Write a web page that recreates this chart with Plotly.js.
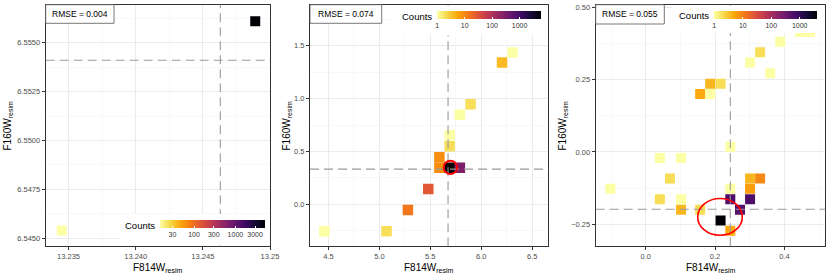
<!DOCTYPE html>
<html>
<head>
<meta charset="utf-8">
<script src="https://cdn.plot.ly/plotly-3.0.1.min.js"></script>
<style>html,body{margin:0;padding:0;background:#fff;}#chart{width:830px;height:277px;}</style>
</head>
<body>
<div id="chart"></div>
<script>
// ---------- Data ----------
// Panel 1
const p1X = [13.2345, 13.2489];
const p1Y = [6.5454, 6.5561];
const p1N = [15, 5200];
const p1RefX = 13.2463, p1RefY = 6.55411;
const p1Rmse = "RMSE = 0.004";
// Panel 2
const p2X = [4.46, 5.07, 5.28, 5.48, 5.589, 5.589, 5.69, 5.79, 5.69, 5.69, 5.79, 5.895, 6.204, 6.306];
const p2Y = [-0.255, -0.255, -0.054, 0.144, 0.345, 0.446, 0.345, 0.345, 0.55, 0.652, 0.846, 0.947, 1.341, 1.436];
const p2N = [1, 2, 14, 28, 9, 9, 6200, 300, 2, 1, 1, 2, 4, 1];
const p2RefX = 5.674, p2RefY = 0.333;
const p2Rmse = "RMSE = 0.074";
// Panel 3
const p3X = [0.446, 0.474, 0.388, 0.33, 0.301, 0.359, 0.186, 0.216, 0.157, 0.186, 0.244, 0.041, 0.102, 0.07, -0.102, 0.244, 0.301, 0.33, 0.301, 0.041, 0.102, 0.244, 0.301, 0.102, 0.157, 0.272, 0.216, 0.244];
const p3Y = [0.415, 0.415, 0.381, 0.345, 0.309, 0.272, 0.236, 0.236, 0.2, 0.2, 0.018, -0.021, -0.021, -0.092, -0.127, -0.127, -0.092, -0.092, -0.127, -0.163, -0.163, -0.163, -0.163, -0.2, -0.2, -0.2, -0.237, -0.272];
const p3N = [1, 1, 1, 2, 1, 1, 4, 2, 5, 1, 1, 1, 1, 2, 1, 1, 4, 9, 6, 2, 1, 600, 600, 4, 2, 500, 4150, 5];
const p3RefX = 0.244, p3RefY = -0.198;
const p3Rmse = "RMSE = 0.055";

// Tick labels
const p1XTicks = [13.235, 13.240, 13.245, 13.250];
const p1XText = ["13.235", "13.240", "13.245", "13.25"];
const p1YTicks = [6.5450, 6.5475, 6.5500, 6.5525, 6.5550];
const p1YText = ["6.5450", "6.5475", "6.5500", "6.5525", "6.5550"];
const p2XTicks = [4.5, 5.0, 5.5, 6.0, 6.5];
const p2XText = ["4.5", "5.0", "5.5", "6.0", "6.5"];
const p2YTicks = [0.0, 0.5, 1.0, 1.5];
const p2YText = ["0.0", "0.5", "1.0", "1.5"];
const p3XTicks = [0.0, 0.2, 0.4];
const p3XText = ["0.0", "0.2", "0.4"];
const p3YTicks = [-0.25, 0.0, 0.25, 0.5];
const p3YText = ["\u22120.25", "0.00", "0.25", "0.50"];
const p1CbTicks = [30, 100, 300, 1000, 3000];
const p23CbTicks = [1, 10, 100, 1000];

// ---------- Styling ----------
const W = 830, H = 277;
const px = v => v / W;
const py = v => 1 - v / H;
const inferno = [[0,'#FCFFA4'],[0.1,'#F6D746'],[0.2,'#FCA50A'],[0.3,'#F37819'],[0.4,'#DD513A'],[0.5,'#BC3754'],[0.6,'#932667'],[0.7,'#6A176E'],[0.8,'#420A68'],[0.9,'#160B39'],[1,'#000004']];

function binTrace(xs, ys, ns, xa, ya, size, ticks, cb) {
  return {
    type: 'scatter', mode: 'markers', x: xs, y: ys, xaxis: xa, yaxis: ya,
    hoverinfo: 'skip',
    marker: {
      symbol: 'square', size: size, line: {width: 0},
      color: ns.map(Math.log10),
      cmin: Math.log10(Math.min(...ns)), cmax: Math.log10(Math.max(...ns)),
      colorscale: inferno, showscale: true,
      colorbar: {
        orientation: 'h', x: px(cb.x), xanchor: 'left', y: py(cb.y), yanchor: 'top',
        len: cb.len, lenmode: 'pixels', thickness: 8.4, thicknessmode: 'pixels',
        xpad: 0, ypad: 0, outlinewidth: 0, borderwidth: 0, bgcolor: 'rgba(0,0,0,0)',
        tickvals: ticks.map(Math.log10), ticktext: ticks.map(String),
        ticks: 'inside', ticklen: 2, tickcolor: '#ffffff', tickwidth: 1,
        tickfont: {size: 7, color: '#333333'}
      }
    }
  };
}

const data = [
  binTrace(p1X, p1Y, p1N, 'x', 'y', 10, p1CbTicks, {x: 160, y: 220.3, len: 105}),
  binTrace(p2X, p2Y, p2N, 'x2', 'y2', 10.5, p23CbTicks, {x: 437.3, y: 10.8, len: 104.4}),
  binTrace(p3X, p3Y, p3N, 'x3', 'y3', 10, p23CbTicks, {x: 714.3, y: 10.8, len: 103.4})
];

function axis(dom, range, tv, tt, minorVals, anchor) {
  return {
    domain: dom, range: range, anchor: anchor,
    tickmode: 'array', tickvals: tv, ticktext: tt,
    showline: true, mirror: true, linecolor: '#333333', linewidth: 1,
    ticks: 'outside', ticklen: 3, tickwidth: 1, tickcolor: '#333333',
    tickfont: {size: 7.5, color: '#4D4D4D'},
    showgrid: true, gridcolor: '#EBEBEB', gridwidth: 1, zeroline: false,
    minor: {tickmode: 'array', tickvals: minorVals, showgrid: true, gridcolor: '#F3F3F3', gridwidth: 0.6, ticks: ''}
  };
}

const yDom = [py(246.3), py(4.7)];
const layout = {
  width: W, height: H, margin: {l: 0, r: 0, t: 0, b: 0},
  paper_bgcolor: '#ffffff', plot_bgcolor: '#ffffff', showlegend: false,
  font: {family: 'Liberation Sans, Arial, sans-serif', color: '#000'},
  xaxis: axis([px(45.7), px(270)], [13.2333, 13.2500], p1XTicks, p1XText, [13.2375, 13.2425, 13.2475], 'y'),
  yaxis: axis(yDom, [6.54459, 6.55695], p1YTicks, p1YText, [6.54625, 6.54875, 6.55125, 6.55375, 6.55625], 'x'),
  xaxis2: axis([px(310), px(548.3)], [4.319, 6.658], p2XTicks, p2XText, [4.75, 5.25, 5.75, 6.25], 'y2'),
  yaxis2: axis(yDom, [-0.397, 1.8875], p2YTicks, p2YText, [-0.25, 0.25, 0.75, 1.25, 1.75], 'x2'),
  xaxis3: axis([px(595.7), px(825.3)], [-0.1442, 0.518], p3XTicks, p3XText, [-0.1, 0.1, 0.3, 0.5], 'y3'),
  yaxis3: axis(yDom, [-0.326, 0.509], p3YTicks, p3YText, [-0.125, 0.125, 0.375], 'x3'),
  shapes: [],
  annotations: []
};

const dashStyle = {color: '#9A9A9A', width: 1.1, dash: '9px,5px'};
[[p1RefX, p1RefY, 'x', 'y'], [p2RefX, p2RefY, 'x2', 'y2'], [p3RefX, p3RefY, 'x3', 'y3']].forEach(([rx, ry, xa, ya]) => {
  layout.shapes.push({type: 'line', layer: 'above', xref: xa, yref: ya + ' domain', x0: rx, x1: rx, y0: 0, y1: 1, line: dashStyle});
  layout.shapes.push({type: 'line', layer: 'above', xref: xa + ' domain', yref: ya, x0: 0, x1: 1, y0: ry, y1: ry, line: dashStyle});
});
// red highlight circles
layout.shapes.push({type: 'circle', layer: 'above', xref: 'x2', yref: 'y2', x0: 5.631, x1: 5.763, y0: 0.286, y1: 0.412, line: {color: '#FF0000', width: 2}});
layout.shapes.push({type: 'circle', layer: 'above', xref: 'x3', yref: 'y3', x0: 0.15, x1: 0.2786, y0: -0.288, y1: -0.161, line: {color: '#FF0000', width: 1.6}});

// legend backgrounds
[[120, 269, 214, 245.3], [396.7, 547.3, 5.7, 35], [672, 824.3, 5.7, 33]].forEach(([a, b, c, d]) => {
  layout.shapes.push({type: 'rect', layer: 'above', xref: 'paper', yref: 'paper', x0: px(a), x1: px(b), y0: py(d), y1: py(c), fillcolor: '#ffffff', line: {width: 0}});
});
// RMSE boxes
[[45.7, 114, 23.3, p1Rmse], [310, 381.7, 23.3, p2Rmse], [595.7, 664.3, 24, p3Rmse]].forEach(([a, b, d, txt]) => {
  layout.shapes.push({type: 'rect', layer: 'above', xref: 'paper', yref: 'paper', x0: px(a), x1: px(b), y0: py(d), y1: py(4.7), fillcolor: '#ffffff', line: {color: '#555555', width: 0.8}});
  layout.annotations.push({xref: 'paper', yref: 'paper', x: px((a + b) / 2), y: py((4.7 + d) / 2), text: txt, showarrow: false, xanchor: 'center', yanchor: 'middle', font: {size: 8.5, color: '#000'}});
});
// "Counts" legend titles
[[140.3, 225.3], [416.7, 16.0], [693.7, 15.7]].forEach(([a, b]) => {
  layout.annotations.push({xref: 'paper', yref: 'paper', x: px(a), y: py(b), text: 'Counts', showarrow: false, xanchor: 'center', yanchor: 'middle', font: {size: 9.5, color: '#000'}});
});
// axis titles
[[157.9], [429.2], [710.5]].forEach(([a]) => {
  layout.annotations.push({xref: 'paper', yref: 'paper', x: px(a), y: py(259.5), text: 'F814W<sub>resim</sub>', showarrow: false, xanchor: 'center', yanchor: 'top', font: {size: 10, color: '#000'}});
});
[[7], [286], [562]].forEach(([a]) => {
  layout.annotations.push({xref: 'paper', yref: 'paper', x: px(a), y: py(125.5), text: 'F160W<sub>resim</sub>', textangle: -90, showarrow: false, xanchor: 'center', yanchor: 'middle', font: {size: 10, color: '#000'}});
});

Plotly.newPlot('chart', data, layout, {staticPlot: true, displayModeBar: false});
</script>
</body>
</html>
